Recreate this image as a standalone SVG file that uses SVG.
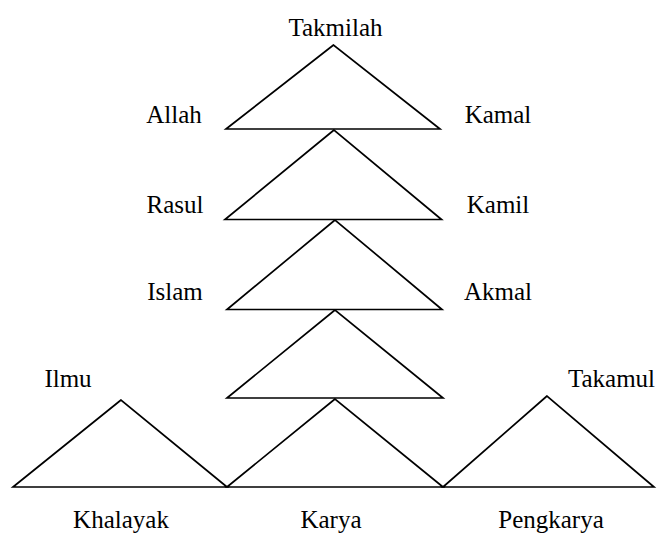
<svg xmlns="http://www.w3.org/2000/svg" width="657" height="534" viewBox="0 0 657 534">
<style>
.tri{fill:none;stroke:#000;stroke-width:1.7;stroke-linejoin:miter}
.lbl{font-family:'Times New Roman','Liberation Serif',Times,serif;font-size:25px;fill:#000;text-anchor:middle}
</style>
<rect width="657" height="534" fill="#fff"/>
<g id="triangles">
<polygon id="t1" class="tri" points="333.5,45 226,129 440,129"/>
<polygon id="t2" class="tri" points="334,130 225,219.5 441.5,219.5"/>
<polygon id="t3" class="tri" points="335,220 227,309.5 442,309.5"/>
<polygon id="t4" class="tri" points="335,310 227,398 443,398"/>
<polygon id="t5" class="tri" points="335,399 227,487 443,487"/>
<polygon id="tL" class="tri" points="121,400 13,487 227,487"/>
<polygon id="tR" class="tri" points="547,396 443,487 654,487"/>
</g>
<g id="labels">
<text class="lbl" x="335.5" y="36">Takmilah</text>
<text class="lbl" x="174" y="123">Allah</text>
<text class="lbl" x="175" y="213">Rasul</text>
<text class="lbl" x="175" y="300">Islam</text>
<text class="lbl" x="498" y="123">Kamal</text>
<text class="lbl" x="498" y="213">Kamil</text>
<text class="lbl" x="498" y="300">Akmal</text>
<text class="lbl" x="68" y="387">Ilmu</text>
<text class="lbl" x="611.5" y="387">Takamul</text>
<text class="lbl" x="121" y="528">Khalayak</text>
<text class="lbl" x="331" y="528">Karya</text>
<text class="lbl" x="551" y="528">Pengkarya</text>
</g>
</svg>
